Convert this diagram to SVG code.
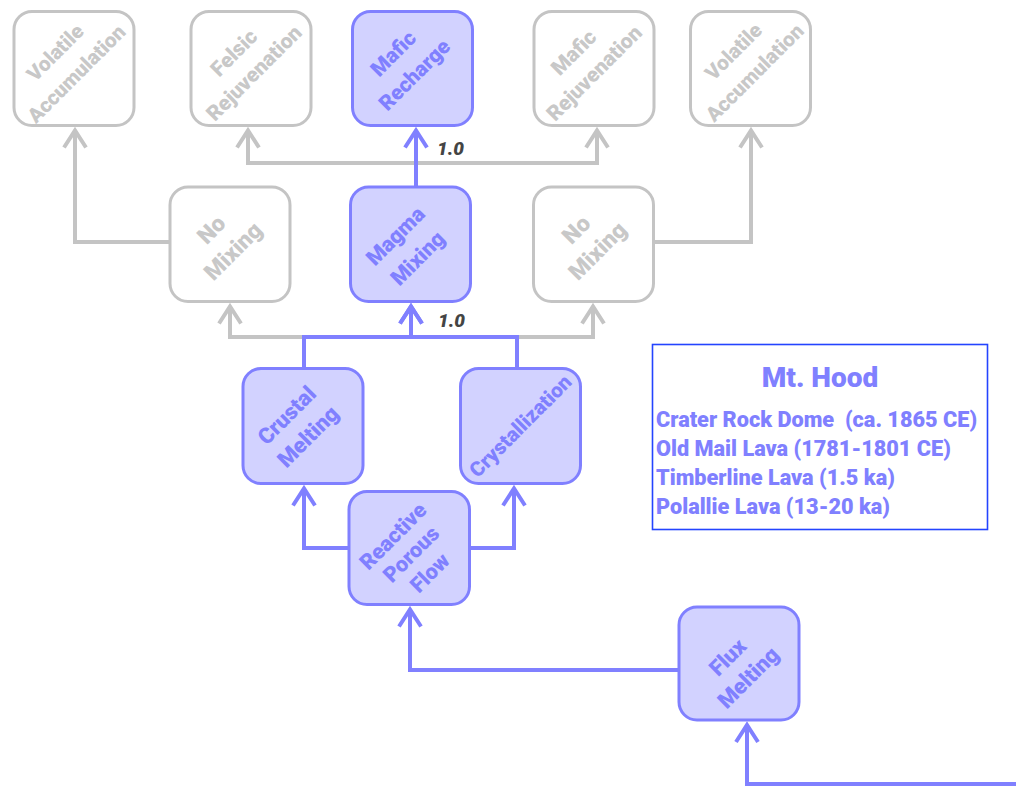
<svg xmlns="http://www.w3.org/2000/svg" width="1016" height="787" viewBox="0 0 1016 787">
  <style>
    .box { stroke-width: 3; }
    .on  { fill: #d2d2ff; stroke: #8080ff; }
    .off { fill: #ffffff; stroke: #c4c4c4; }
    .lbl { font-family: Roboto, "Liberation Sans", sans-serif; font-weight: 900; text-anchor: middle; }
    .lbl-on  { fill: #8080ff; }
    .lbl-off { fill: #c8c8c8; }
    .wire { fill: none; stroke-width: 4; stroke-linejoin: miter; }
    .wire-on  { stroke: #8080ff; marker-end: url(#head-on); }
    .wire-off { stroke: #c4c4c4; marker-end: url(#head-off); }
    .weight { font-family: Roboto, "Liberation Sans", sans-serif; font-weight: 900; font-style: italic; font-size: 19px; fill: #444444; }
    .legend-title { font-family: Roboto, "Liberation Sans", sans-serif; font-weight: 900; font-size: 28px; fill: #8080ff; text-anchor: middle; }
    .legend-item { font-family: Roboto, "Liberation Sans", sans-serif; font-weight: 900; font-size: 21.7px; fill: #8080ff; }
  </style>
  <defs>
    <marker id="head-on" markerUnits="userSpaceOnUse" viewBox="-22 -16 30 32" markerWidth="30" markerHeight="32" refX="0" refY="0" orient="auto">
      <path d="M -17 -11 L 0 0 L -17 11" fill="none" stroke="#8080ff" stroke-width="4"/>
    </marker>
    <marker id="head-off" markerUnits="userSpaceOnUse" viewBox="-22 -16 30 32" markerWidth="30" markerHeight="32" refX="0" refY="0" orient="auto">
      <path d="M -17 -11 L 0 0 L -17 11" fill="none" stroke="#c4c4c4" stroke-width="4"/>
    </marker>
  </defs>

  <!-- connectors: inactive branches first, active path on top -->
  <g id="connectors">
    <path class="wire wire-off" d="M 416 187 V 163 H 248 V 130.5"/>
    <path class="wire wire-off" d="M 416 163 H 597 V 130.5"/>
    <path class="wire wire-off" d="M 170 242 H 75 V 130.5"/>
    <path class="wire wire-off" d="M 653 242 H 751 V 130.5"/>
    <path class="wire wire-off" d="M 304 337 H 230 V 306.5"/>
    <path class="wire wire-off" d="M 517 337 H 593 V 306.5"/>

    <path class="wire wire-on" d="M 416 187 V 130.5"/>
    <path class="wire wire-on" d="M 304 368 V 337 H 411 V 306.5"/>
    <path class="wire wire-on" d="M 517 368 V 337 H 411 V 306.5"/>
    <path class="wire wire-on" d="M 349 548 H 304 V 488.5"/>
    <path class="wire wire-on" d="M 470 548 H 514 V 488.5"/>
    <path class="wire wire-on" d="M 679 670 H 410 V 609.5"/>
    <path class="wire wire-on" d="M 1016 784 H 747 V 725"/>

    <text class="weight" x="437" y="155">1.0</text>
    <text class="weight" x="438" y="327">1.0</text>
  </g>

  <!-- top row -->
  <g id="volatile-accumulation-1">
    <rect class="box off" x="14" y="11.5" width="120" height="114" rx="18"/>
    <text class="lbl lbl-off" font-size="20.5" transform="translate(74 68.5) rotate(-45)"><tspan x="-2" y="-17.5">Volatile</tspan><tspan x="-2" y="12.5">Accumulation</tspan></text>
  </g>
  <g id="felsic-rejuvenation">
    <rect class="box off" x="191" y="11.5" width="120" height="114" rx="18"/>
    <text class="lbl lbl-off" font-size="21" transform="translate(251 68.5) rotate(-45)"><tspan x="-1" y="-16">Felsic</tspan><tspan x="-1" y="12.5">Rejuvenation</tspan></text>
  </g>
  <g id="mafic-recharge">
    <rect class="box on" x="352.5" y="11.5" width="120" height="114" rx="18"/>
    <text class="lbl lbl-on" font-size="21" transform="translate(412.5 68.5) rotate(-45)"><tspan x="-3" y="-17">Mafic</tspan><tspan x="-3" y="13">Recharge</tspan></text>
  </g>
  <g id="mafic-rejuvenation">
    <rect class="box off" x="534" y="11.5" width="120" height="114" rx="18"/>
    <text class="lbl lbl-off" font-size="21" transform="translate(594 68.5) rotate(-45)"><tspan x="-3" y="-18.5">Mafic</tspan><tspan x="-3" y="10.5">Rejuvenation</tspan></text>
  </g>
  <g id="volatile-accumulation-2">
    <rect class="box off" x="690.5" y="11.5" width="120" height="114" rx="18"/>
    <text class="lbl lbl-off" font-size="20.5" transform="translate(750.5 68.5) rotate(-45)"><tspan x="0" y="-17">Volatile</tspan><tspan x="0" y="13">Accumulation</tspan></text>
  </g>

  <!-- mixing row -->
  <g id="no-mixing-1">
    <rect class="box off" x="170" y="187" width="120" height="114.5" rx="18"/>
    <text class="lbl lbl-off" font-size="23" transform="translate(230 244) rotate(-45)"><tspan x="-3" y="-15.5">No</tspan><tspan x="-3" y="15">Mixing</tspan></text>
  </g>
  <g id="magma-mixing">
    <rect class="box on" x="350.5" y="187" width="120" height="114.5" rx="18"/>
    <text class="lbl lbl-on" font-size="21.5" transform="translate(410.5 244) rotate(-45)"><tspan x="-5" y="-9">Magma</tspan><tspan x="-5" y="22.5">Mixing</tspan></text>
  </g>
  <g id="no-mixing-2">
    <rect class="box off" x="533.5" y="187" width="120" height="114.5" rx="18"/>
    <text class="lbl lbl-off" font-size="23" transform="translate(593.5 244) rotate(-45)"><tspan x="-2" y="-14.5">No</tspan><tspan x="-2" y="15.5">Mixing</tspan></text>
  </g>

  <!-- differentiation row -->
  <g id="crustal-melting">
    <rect class="box on" x="243" y="368.5" width="120" height="115" rx="18"/>
    <text class="lbl lbl-on" font-size="22" transform="translate(303 426) rotate(-45)"><tspan x="-4" y="-11.5">Crustal</tspan><tspan x="-4" y="18.5">Melting</tspan></text>
  </g>
  <g id="crystallization">
    <rect class="box on" x="460.5" y="368.5" width="120" height="115" rx="18"/>
    <text class="lbl lbl-on" font-size="20.5" transform="translate(520.5 426) rotate(-45)"><tspan x="0" y="7">Crystallization</tspan></text>
  </g>
  <g id="reactive-porous-flow">
    <rect class="box on" x="349" y="491.5" width="120.5" height="113" rx="18"/>
    <text class="lbl lbl-on" font-size="21.5" transform="translate(409.25 548) rotate(-45)"><tspan x="-3" y="-12.5">Reactive</tspan><tspan x="-3" y="13">Porous</tspan><tspan x="-3" y="39.5">Flow</tspan></text>
  </g>
  <g id="flux-melting">
    <rect class="box on" x="679" y="607" width="120" height="113" rx="18"/>
    <text class="lbl lbl-on" font-size="22" transform="translate(739 663.5) rotate(-45)"><tspan x="-3.5" y="-5">Flux</tspan><tspan x="-3.5" y="24">Melting</tspan></text>
  </g>

  <!-- legend -->
  <g id="legend">
    <rect x="652.5" y="344.5" width="335" height="185" fill="#ffffff" stroke="#2444ff" stroke-width="1.6"/>
    <text class="legend-title" x="820" y="387">Mt. Hood</text>
    <text class="legend-item" x="656" y="427" xml:space="preserve">Crater Rock Dome  (ca. 1865 CE)</text>
    <text class="legend-item" x="656" y="456">Old Mail Lava (1781-1801 CE)</text>
    <text class="legend-item" x="656" y="485">Timberline Lava (1.5 ka)</text>
    <text class="legend-item" x="656" y="513.5">Polallie Lava (13-20 ka)</text>
  </g>
</svg>
